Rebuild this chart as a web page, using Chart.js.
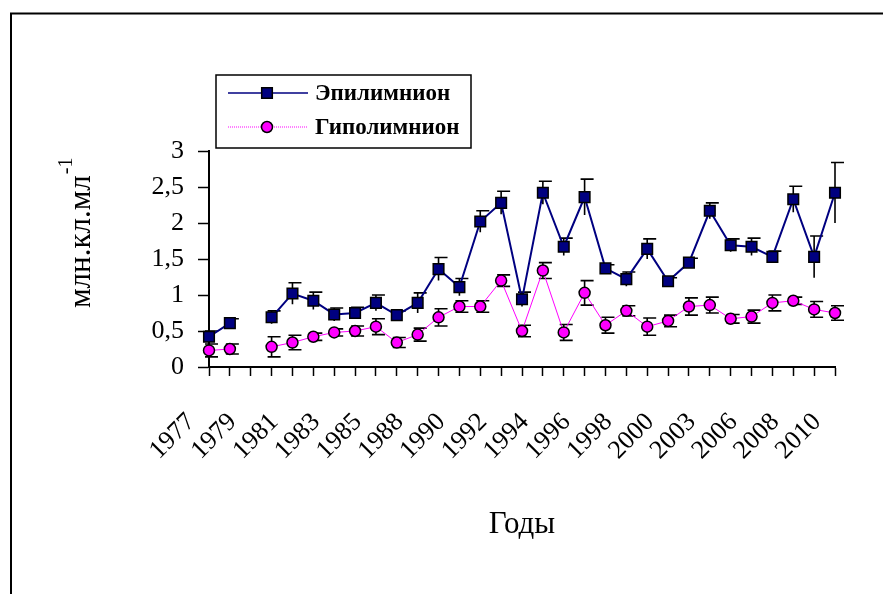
<!DOCTYPE html>
<html>
<head>
<meta charset="utf-8">
<script src="https://cdn.jsdelivr.net/npm/chart.js@4.4.1/dist/chart.umd.min.js"></script>
<style>
  html, body { margin: 0; padding: 0; background: #fff; }
  #wrap { width: 883px; height: 594px; position: relative; }
</style>
</head>
<body>
<div id="wrap"><canvas id="c" width="883" height="594"></canvas></div>
<script>
// ---- data ----
const years = ['1977','1978','1979','1980','1981','1982','1983','1984','1985','1986','1988','1989','1990','1991','1992','1993','1994','1995','1996','1997','1998','1999','2000','2001','2003','2004','2006','2007','2008','2009','2010'];
const epiName = 'Эпилимнион';
const hypoName = 'Гиполимнион';
const epi     = [0.42, 0.61, null, 0.69, 1.02, 0.92, 0.73, 0.75, 0.89, 0.72, 0.89, 1.36, 1.11, 2.02, 2.28, 0.94, 2.42, 1.67, 2.36, 1.37, 1.22, 1.64, 1.19, 1.45, 2.17, 1.69, 1.67, 1.53, 2.33, 1.53, 2.42];
const epiErr  = [0.08, 0.06, null, 0.09, 0.15, 0.12, 0.09, 0.08, 0.11, 0.06, 0.14, 0.16, 0.12, 0.15, 0.16, 0.10, 0.16, 0.12, 0.25, 0.05, 0.10, 0.14, 0.05, 0.06, 0.11, 0.09, 0.12, 0.08, 0.18, 0.29, 0.42];
const hypo    = [0.23, 0.25, null, 0.28, 0.34, 0.42, 0.48, 0.50, 0.56, 0.34, 0.45, 0.69, 0.84, 0.84, 1.20, 0.50, 1.34, 0.48, 1.03, 0.58, 0.78, 0.56, 0.64, 0.84, 0.86, 0.67, 0.70, 0.89, 0.92, 0.80, 0.75];
const hypoErr = [0.09, 0.07, null, 0.14, 0.10, 0.05, 0.05, 0.07, 0.11, 0.07, 0.09, 0.12, 0.08, 0.08, 0.08, 0.08, 0.11, 0.11, 0.17, 0.11, 0.07, 0.12, 0.08, 0.12, 0.11, 0.06, 0.09, 0.11, 0.05, 0.11, 0.10];
const yTicks = [0, 0.5, 1, 1.5, 2, 2.5, 3];
const yTitle = 'млн.кл.мл';
const yTitleSup = '-1';
const xTitle = 'Годы';

const SERIF = "'Liberation Serif', 'Times New Roman', serif";

const errs = [epiErr, hypoErr];
const capBoth = [false, true];

const decorPlugin = {
  id: 'decor',
  beforeDraw(chart) {
    const ctx = chart.ctx;
    ctx.save();
    ctx.fillStyle = '#fff';
    ctx.fillRect(0, 0, chart.width, chart.height);
    ctx.strokeStyle = '#000';
    ctx.lineWidth = 2;
    ctx.beginPath();
    ctx.moveTo(11, chart.height);
    ctx.lineTo(11, 13.5);
    ctx.lineTo(chart.width, 13.5);
    ctx.stroke();
    ctx.restore();
  },
  beforeDatasetsDraw(chart) {
    const ctx = chart.ctx;
    const ys = chart.scales.y;
    ctx.save();
    ctx.strokeStyle = '#000';
    ctx.lineWidth = 1.6;
    chart.data.datasets.forEach((ds, di) => {
      const meta = chart.getDatasetMeta(di);
      const e = errs[di];
      ds.data.forEach((v, i) => {
        if (v === null || e[i] === null) return;
        const x = meta.data[i].x;
        const yt = ys.getPixelForValue(v + e[i]);
        const yb = ys.getPixelForValue(v - e[i]);
        ctx.beginPath();
        ctx.moveTo(x, yt); ctx.lineTo(x, yb);
        ctx.moveTo(x - 4, yt); ctx.lineTo(x + 9, yt);
        if (capBoth[di]) { ctx.moveTo(x - 4, yb); ctx.lineTo(x + 9, yb); }
        ctx.stroke();
      });
    });
    ctx.restore();
  },
  afterDraw(chart) {
    const ctx = chart.ctx;
    ctx.save();
    // y title with superscript
    ctx.fillStyle = '#000';
    ctx.translate(90, 308);
    ctx.rotate(-Math.PI / 2);
    ctx.font = '31px ' + SERIF;
    ctx.textAlign = 'left';
    ctx.textBaseline = 'alphabetic';
    ctx.fillText(yTitle, 0, 0);
    const w = ctx.measureText(yTitle).width;
    ctx.font = '20px ' + SERIF;
    ctx.fillText(yTitleSup, w + 1, -18);
    ctx.restore();

    // legend
    ctx.save();
    ctx.strokeStyle = '#000';
    ctx.lineWidth = 1.5;
    ctx.strokeRect(216, 75, 255, 73);
    const rows = [93, 127];
    chart.data.datasets.forEach((ds, di) => {
      const y = rows[di];
      ctx.strokeStyle = ds.borderColor;
      ctx.lineWidth = di === 0 ? 1.5 : 1;
      if (di === 1) ctx.setLineDash([1, 1]);
      ctx.beginPath();
      ctx.moveTo(228, y); ctx.lineTo(308, y);
      ctx.stroke();
      ctx.setLineDash([]);
      ctx.fillStyle = ds.pointBackgroundColor;
      ctx.strokeStyle = ds.pointBorderColor;
      ctx.lineWidth = ds.pointBorderWidth;
      ctx.beginPath();
      if (ds.pointStyle === 'rect') {
        const s = Math.SQRT1_2 * ds.pointRadius;
        ctx.rect(267 - s, y - s, 2 * s, 2 * s);
      } else {
        ctx.arc(267, y, ds.pointRadius, 0, Math.PI * 2);
      }
      ctx.fill(); ctx.stroke();
      ctx.fillStyle = '#000';
      ctx.font = 'bold 23px ' + SERIF;
      ctx.textAlign = 'left';
      ctx.textBaseline = 'middle';
      ctx.fillText(ds.label, 315, y + 1);
    });
    ctx.restore();
  }
};

new Chart(document.getElementById('c'), {
  type: 'line',
  data: {
    labels: years,
    datasets: [
      {
        label: epiName,
        data: epi,
        borderColor: '#000080',
        borderWidth: 2,
        pointStyle: 'rect',
        pointRadius: 7.5,
        pointBackgroundColor: '#000080',
        pointBorderColor: '#000',
        pointBorderWidth: 1.5,
        spanGaps: false,
        tension: 0
      },
      {
        label: hypoName,
        data: hypo,
        borderColor: '#FF00FF',
        borderWidth: 1,
        pointStyle: 'circle',
        pointRadius: 5.5,
        pointBackgroundColor: '#FF00FF',
        pointBorderColor: '#000',
        pointBorderWidth: 1.5,
        spanGaps: false,
        tension: 0
      }
    ]
  },
  options: {
    responsive: false,
    devicePixelRatio: 1,
    animation: false,
    layout: { padding: { left: 0, top: 151, right: 48, bottom: 0 } },
    plugins: { legend: { display: false }, tooltip: { enabled: false } },
    scales: {
      x: {
        type: 'category',
        offset: false,
        border: { display: true, color: '#000', width: 2 },
        grid: { drawOnChartArea: false, drawTicks: true, tickLength: 9, tickColor: '#000', tickWidth: 1.5 },
        ticks: {
          autoSkip: false,
          maxRotation: 45,
          minRotation: 45,
          labelOffset: -18,
          padding: 31,
          color: '#000',
          font: { family: SERIF, size: 26 },
          callback: (v, i) => (i % 2 === 0 ? years[i] : '')
        },
        title: {
          display: true,
          text: xTitle,
          color: '#000',
          font: { family: SERIF, size: 31 },
          padding: { top: 0, bottom: 51 }
        },
        afterFit: (s) => { s.height = 227; s.paddingLeft = 0; s.paddingRight = 0; }
      },
      y: {
        min: 0,
        max: 3,
        border: { display: true, color: '#000', width: 2 },
        grid: { drawOnChartArea: false, drawTicks: true, tickLength: 11, tickColor: '#000', tickWidth: 1.5 },
        afterBuildTicks: (s) => { s.ticks = yTicks.map(v => ({ value: v })); },
        ticks: {
          padding: 14,
          color: '#000',
          font: { family: SERIF, size: 26 },
          callback: (v) => String(v).replace('.', ',')
        },
        afterFit: (s) => { s.width = 209; s.paddingTop = 0; s.paddingBottom = 0; }
      }
    }
  },
  plugins: [decorPlugin]
});
</script>
</body>
</html>
